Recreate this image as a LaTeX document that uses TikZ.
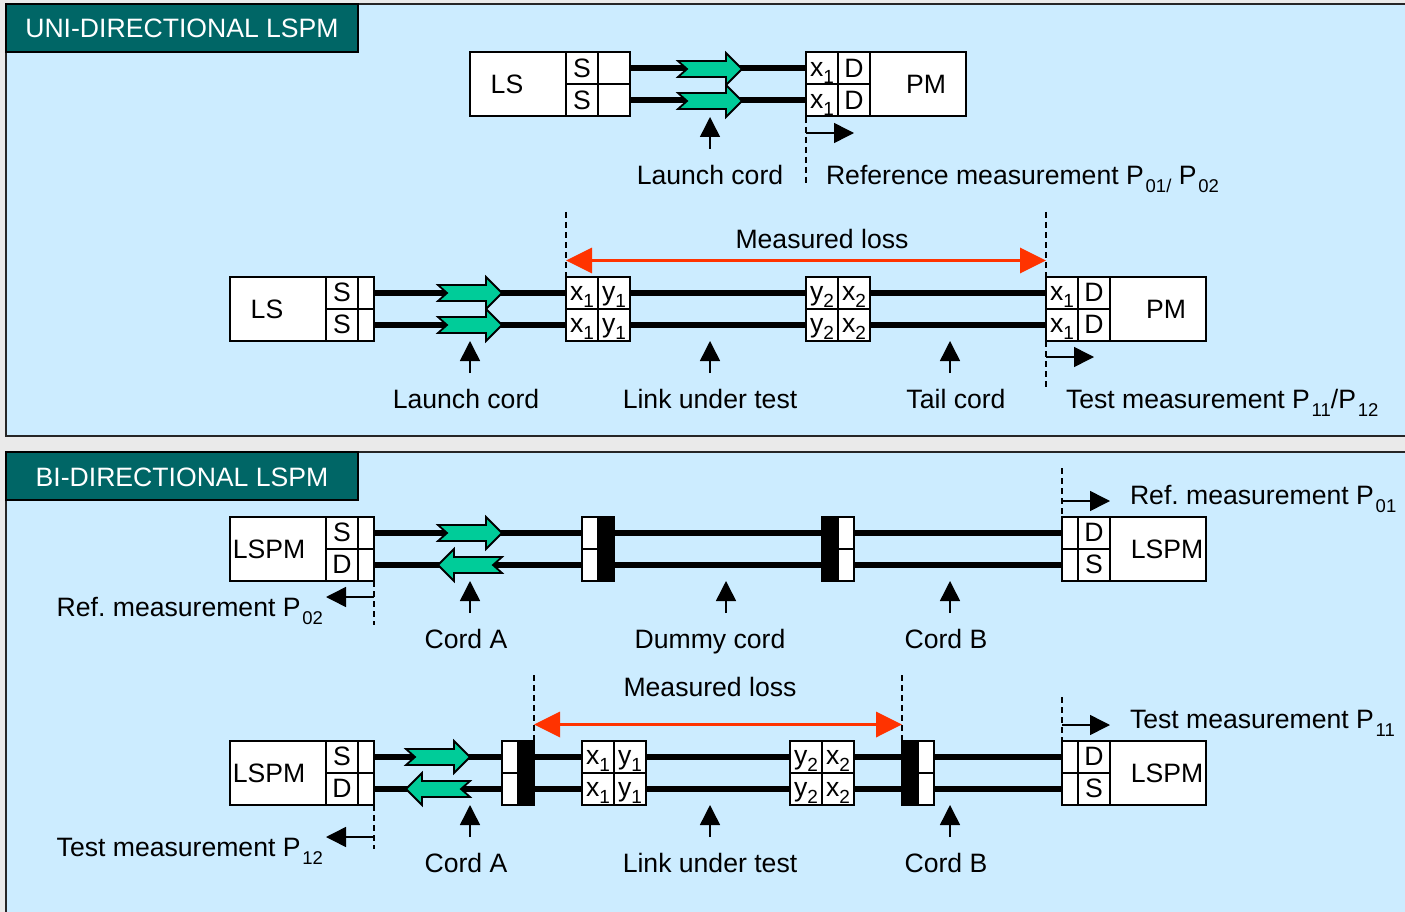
\documentclass[tikz,border=0pt]{standalone}
\usepackage{fontspec}
\setmainfont{Liberation Sans}
\usetikzlibrary{arrows.meta}
\definecolor{panelblue}{HTML}{CCECFF}
\definecolor{pagegray}{HTML}{EAEAEA}
\definecolor{titlegreen}{HTML}{006666}
\definecolor{arrowgreen}{HTML}{00CC99}
\definecolor{lossred}{HTML}{FF3300}
\frenchspacing
\newcommand{\bigtxt}{\fontsize{26.6}{30}\selectfont}
\newcommand{\sm}[1]{\kern1.8pt\raisebox{-8pt}[0pt][0pt]{\fontsize{18.5}{18.5}\selectfont #1}}
\newcommand{\cs}[1]{\raisebox{-6pt}[0pt][0pt]{\fontsize{19}{19}\selectfont #1}}
\newcommand{\xa}{\raisebox{1pt}{x}\cs{1}}
\newcommand{\xb}{\raisebox{1pt}{x}\cs{2}}
\newcommand{\ya}{\raisebox{1pt}{y}\cs{1}}
\newcommand{\yb}{\raisebox{1pt}{y}\cs{2}}
% name, x, y, width, height, text
\newcommand{\cellbox}[6]{\node[cellstyle,minimum width=#4pt,minimum height=#5pt] (#1) at (#2,#3) {#6};}
\newcommand{\blackbox}[5]{\node[blackstyle,minimum width=#4pt,minimum height=#5pt] (#1) at (#2,#3) {};}
\newcommand{\rgreen}[2]{\draw[greenstyle,shift={(#1,#2)}] (0,-8) -- (48,-8) -- (48,-16) -- (64,0) -- (48,16) -- (48,8) -- (0,8) -- (9,0) -- cycle;}
\newcommand{\lgreen}[2]{\draw[greenstyle,shift={(#1,#2)},xscale=-1] (0,-8) -- (48,-8) -- (48,-16) -- (64,0) -- (48,16) -- (48,8) -- (0,8) -- (9,0) -- cycle;}
% name, x, tip y
\newcommand{\uppointer}[3]{\coordinate (#1a) at (#2,#3+32); \coordinate (#1b) at (#2,#3); \draw[pointerstyle] (#1a) -- (#1b);}
% name, x, y, x end
\newcommand{\sidepointer}[4]{\coordinate (#1a) at (#2,#3); \coordinate (#1b) at (#4,#3); \draw[pointerstyle] (#1a) -- (#1b);}
% name, x, y0, y1
\newcommand{\dashline}[4]{\coordinate (#1a) at (#2,#3); \coordinate (#1b) at (#2,#4); \draw[dashstyle] (#1a) -- (#1b);}
\newcommand{\lossarrow}[4]{\coordinate (#1a) at (#2,#4); \coordinate (#1b) at (#3,#4); \draw[lossstyle] (#1a) -- (#1b);}
\tikzset{
  cellstyle/.style={draw=black,fill=white,line width=2pt,anchor=north west,inner sep=0pt,outer sep=0pt,font=\bigtxt,text height=18pt,text depth=0pt},
  blackstyle/.style={draw=black,fill=black,line width=2pt,anchor=north west,inner sep=0pt,outer sep=0pt},
  fibre/.style={line width=6pt,black,yshift=0.5pt},
  greenstyle/.style={draw=black,fill=arrowgreen,line width=1.8pt,line join=miter},
  pointerstyle/.style={draw=black,line width=1.5pt,-{Triangle[length=20pt,width=20pt]}},
  dashstyle/.style={draw=black,line width=1.5pt,dash pattern=on 6pt off 4pt},
  lossstyle/.style={draw=lossred,line width=3.6pt,{Triangle[length=26pt,width=25pt]}-{Triangle[length=26pt,width=25pt]}},
  txt/.style={inner sep=0pt,outer sep=0pt,font=\bigtxt,text=black},
  mid/.style={txt,anchor=base},
  lft/.style={txt,anchor=base west},
  rgt/.style={txt,anchor=base east},
  panel/.style={draw=black!85,fill=panelblue,line width=2pt},
  titlebox/.style={draw=black,fill=titlegreen,line width=2pt,text=white,font=\bigtxt,inner sep=0pt,outer sep=0pt,minimum width=352pt,minimum height=48pt,anchor=north west,text height=20pt,text depth=0pt}
}
\begin{document}
\begin{tikzpicture}[x=1pt,y=-1pt]
\useasboundingbox (0,0) rectangle (1405,912);
\fill[pagegray] (0,0) rectangle (1405,912);
\draw[panel] (6,4) rectangle (1420,436);
\draw[panel] (6,452) rectangle (1420,930);
\node[titlebox] (t1) at (6,4) {UNI-DIRECTIONAL LSPM};
\node[titlebox] (t2) at (6,452) {BI-DIRECTIONAL LSPM};

% ---------- row 1
\cellbox{aLS}{470}{52.5}{96}{64}{}
\cellbox{aS1}{566}{52.5}{32}{32}{S}
\cellbox{aS2}{566}{84.5}{32}{32}{S}
\cellbox{aB1}{598}{52.5}{32}{32}{}
\cellbox{aB2}{598}{84.5}{32}{32}{}
\cellbox{aX1}{806}{52.5}{32}{32}{\xa}
\cellbox{aX2}{806}{84.5}{32}{32}{\xa}
\cellbox{aD1}{838}{52.5}{32}{32}{D}
\cellbox{aD2}{838}{84.5}{32}{32}{D}
\cellbox{aPM}{870}{52.5}{96}{64}{}
\node[mid] (aLSt) at (507,94) {LS};
\node[mid] (aPMt) at (926,94) {PM};
\draw[fibre] (aB1.east) -- (aX1.west);
\draw[fibre] (aB2.east) -- (aX2.west);
\rgreen{678}{69}
\rgreen{678}{101}
\uppointer{ap}{710}{117}
\dashline{ad}{806}{117}{185}
\sidepointer{as}{806}{133}{854}
\node[mid] (alc) at (710,185) {Launch cord};
\node[lft] (aref) at (826,185) {Reference measurement P\sm{01/} P\sm{02}};

% ---------- row 2
\node[mid] (bml) at (822,248) {Measured loss};
\dashline{bd1}{566}{212}{277}
\dashline{bd2}{1046}{212}{277}
\lossarrow{bl}{566}{1046}{260.5}
\cellbox{bLS}{230}{276.5}{96}{64}{}
\cellbox{bS1}{326}{276.5}{32}{32}{S}
\cellbox{bS2}{326}{308.5}{32}{32}{S}
\cellbox{bB1}{358}{276.5}{16}{32}{}
\cellbox{bB2}{358}{308.5}{16}{32}{}
\cellbox{bX1}{566}{276.5}{32}{32}{\xa}
\cellbox{bX2}{566}{308.5}{32}{32}{\xa}
\cellbox{bY1}{598}{276.5}{32}{32}{\ya}
\cellbox{bY2}{598}{308.5}{32}{32}{\ya}
\cellbox{bZ1}{806}{276.5}{32}{32}{\yb}
\cellbox{bZ2}{806}{308.5}{32}{32}{\yb}
\cellbox{bW1}{838}{276.5}{32}{32}{\xb}
\cellbox{bW2}{838}{308.5}{32}{32}{\xb}
\cellbox{bV1}{1046}{276.5}{32}{32}{\xa}
\cellbox{bV2}{1046}{308.5}{32}{32}{\xa}
\cellbox{bD1}{1078}{276.5}{32}{32}{D}
\cellbox{bD2}{1078}{308.5}{32}{32}{D}
\cellbox{bPM}{1110}{276.5}{96}{64}{}
\node[mid] (bLSt) at (267,318) {LS};
\node[mid] (bPMt) at (1166,318) {PM};
\draw[fibre] (bB1.east) -- (bX1.west);
\draw[fibre] (bB2.east) -- (bX2.west);
\draw[fibre] (bY1.east) -- (bZ1.west);
\draw[fibre] (bY2.east) -- (bZ2.west);
\draw[fibre] (bW1.east) -- (bV1.west);
\draw[fibre] (bW2.east) -- (bV2.west);
\rgreen{438}{293}
\rgreen{438}{325}
\uppointer{bp1}{470}{341}
\uppointer{bp2}{710}{341}
\uppointer{bp3}{950}{341}
\dashline{bd3}{1046}{341}{390}
\sidepointer{bs}{1046}{357}{1094}
\node[mid] (blc) at (466,408) {Launch cord};
\node[mid] (blt) at (710,408) {Link under test};
\node[mid] (btc) at (956,408) {Tail cord};
\node[lft] (btm) at (1066,408) {Test measurement P\sm{11}/P\sm{12}};

% ---------- row 3
\dashline{cd1}{1062}{468}{517}
\sidepointer{cs1}{1062}{501}{1110}
\node[lft] (cr1) at (1130,504) {Ref. measurement P\sm{01}};
\cellbox{cLS}{230}{516.5}{96}{64}{}
\cellbox{cS}{326}{516.5}{32}{32}{S}
\cellbox{cD}{326}{548.5}{32}{32}{D}
\cellbox{cB1}{358}{516.5}{16}{32}{}
\cellbox{cB2}{358}{548.5}{16}{32}{}
\cellbox{cW1}{582}{516.5}{16}{32}{}
\cellbox{cW2}{582}{548.5}{16}{32}{}
\blackbox{cK1}{598}{516.5}{16}{32}
\blackbox{cK2}{598}{548.5}{16}{32}
\blackbox{cK3}{822}{516.5}{16}{32}
\blackbox{cK4}{822}{548.5}{16}{32}
\cellbox{cW3}{838}{516.5}{16}{32}{}
\cellbox{cW4}{838}{548.5}{16}{32}{}
\cellbox{cE1}{1062}{516.5}{16}{32}{}
\cellbox{cE2}{1062}{548.5}{16}{32}{}
\cellbox{cD2}{1078}{516.5}{32}{32}{D}
\cellbox{cS2}{1078}{548.5}{32}{32}{S}
\cellbox{cPM}{1110}{516.5}{96}{64}{}
\node[mid] (cLt) at (269,558) {LSPM};
\node[mid] (cRt) at (1167,558) {LSPM};
\draw[fibre] (cB1.east) -- (cW1.west);
\draw[fibre] (cB2.east) -- (cW2.west);
\draw[fibre] (cK1.east) -- (cK3.west);
\draw[fibre] (cK2.east) -- (cK4.west);
\draw[fibre] (cW3.east) -- (cE1.west);
\draw[fibre] (cW4.east) -- (cE2.west);
\rgreen{438}{533}
\lgreen{502}{565}
\dashline{cd2}{374}{581}{625}
\sidepointer{cs2}{374}{597}{326}
\node[rgt] (cr2) at (323,616) {Ref. measurement P\sm{02}};
\uppointer{cp1}{470}{581}
\uppointer{cp2}{726}{581}
\uppointer{cp3}{950}{581}
\node[mid] (cca) at (466,648) {Cord A};
\node[mid] (cdc) at (710,648) {Dummy cord};
\node[mid] (ccb) at (946,648) {Cord B};

% ---------- row 4
\node[mid] (dml) at (710,696) {Measured loss};
\dashline{dd1}{534}{675}{741}
\dashline{dd2}{902}{675}{741}
\lossarrow{dl}{534}{902}{724.5}
\dashline{dd3}{1062}{697}{741}
\sidepointer{ds1}{1062}{725}{1110}
\node[lft] (dr1) at (1130,728) {Test measurement P\sm{11}};
\cellbox{dLS}{230}{740.5}{96}{64}{}
\cellbox{dS}{326}{740.5}{32}{32}{S}
\cellbox{dD}{326}{772.5}{32}{32}{D}
\cellbox{dB1}{358}{740.5}{16}{32}{}
\cellbox{dB2}{358}{772.5}{16}{32}{}
\cellbox{dW1}{502}{740.5}{16}{32}{}
\cellbox{dW2}{502}{772.5}{16}{32}{}
\blackbox{dK1}{518}{740.5}{16}{32}
\blackbox{dK2}{518}{772.5}{16}{32}
\cellbox{dX1}{582}{740.5}{32}{32}{\xa}
\cellbox{dX2}{582}{772.5}{32}{32}{\xa}
\cellbox{dY1}{614}{740.5}{32}{32}{\ya}
\cellbox{dY2}{614}{772.5}{32}{32}{\ya}
\cellbox{dZ1}{790}{740.5}{32}{32}{\yb}
\cellbox{dZ2}{790}{772.5}{32}{32}{\yb}
\cellbox{dV1}{822}{740.5}{32}{32}{\xb}
\cellbox{dV2}{822}{772.5}{32}{32}{\xb}
\blackbox{dK3}{902}{740.5}{16}{32}
\blackbox{dK4}{902}{772.5}{16}{32}
\cellbox{dW3}{918}{740.5}{16}{32}{}
\cellbox{dW4}{918}{772.5}{16}{32}{}
\cellbox{dE1}{1062}{740.5}{16}{32}{}
\cellbox{dE2}{1062}{772.5}{16}{32}{}
\cellbox{dD2}{1078}{740.5}{32}{32}{D}
\cellbox{dS2}{1078}{772.5}{32}{32}{S}
\cellbox{dPM}{1110}{740.5}{96}{64}{}
\node[mid] (dLt) at (269,782) {LSPM};
\node[mid] (dRt) at (1167,782) {LSPM};
\draw[fibre] (dB1.east) -- (dW1.west);
\draw[fibre] (dB2.east) -- (dW2.west);
\draw[fibre] (dK1.east) -- (dX1.west);
\draw[fibre] (dK2.east) -- (dX2.west);
\draw[fibre] (dY1.east) -- (dZ1.west);
\draw[fibre] (dY2.east) -- (dZ2.west);
\draw[fibre] (dV1.east) -- (dK3.west);
\draw[fibre] (dV2.east) -- (dK4.west);
\draw[fibre] (dW3.east) -- (dE1.west);
\draw[fibre] (dW4.east) -- (dE2.west);
\rgreen{406}{757}
\lgreen{470}{789}
\dashline{dd4}{374}{805}{849}
\sidepointer{ds2}{374}{837}{326}
\node[rgt] (dr2) at (323,856) {Test measurement P\sm{12}};
\uppointer{dp1}{470}{805}
\uppointer{dp2}{710}{805}
\uppointer{dp3}{950}{805}
\node[mid] (dca) at (466,872) {Cord A};
\node[mid] (dlt) at (710,872) {Link under test};
\node[mid] (dcb) at (946,872) {Cord B};
\end{tikzpicture}
\end{document}
